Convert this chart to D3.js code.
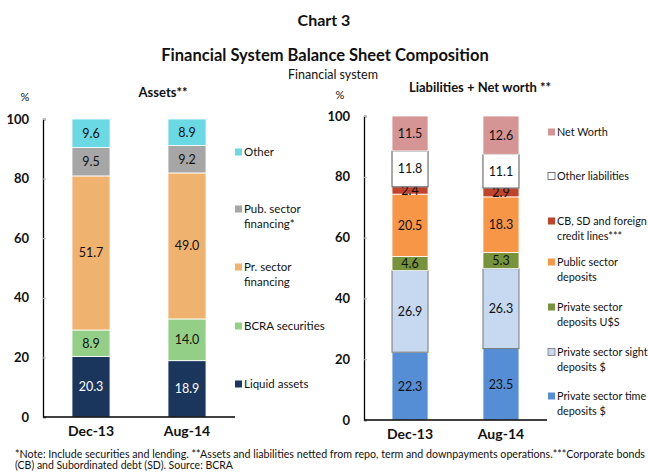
<!DOCTYPE html>
<html>
<head>
<meta charset="utf-8">
<script src="https://cdn.jsdelivr.net/npm/d3@7"></script>
<style>
  body { margin: 0; background: #fff; }
  text { font-family: Lato, "Open Sans", sans-serif; fill: #111; }
</style>
</head>
<body>
<svg width="648" height="472"></svg>
<script>
var periods = ["Dec-13", "Aug-14"];

// assets, bottom to top
var assetSeries = ["Liquid assets", "BCRA securities", "Pr. sector financing", "Pub. sector financing*", "Other"];
var liquidAssets = [20.3, 18.9];
var bcraSecurities = [8.9, 14.0];
var prSectorFin = [51.7, 49.0];
var pubSectorFin = [9.5, 9.2];
var otherAssets = [9.6, 8.9];

// liabilities + net worth, bottom to top
var liabSeries = ["Private sector time deposits $", "Private sector sight deposits $", "Private sector deposits U$S",
                  "Public sector deposits", "CB, SD and foreign credit lines***", "Other liabilities", "Net Worth"];
var timeDeposits = [22.3, 23.5];
var sightDeposits = [26.9, 26.3];
var usdDeposits = [4.6, 5.3];
var publicDeposits = [20.5, 18.3];
var creditLines = [2.4, 2.9];
var otherLiab = [11.8, 11.1];
var netWorth = [11.5, 12.6];

var yTicks = [0, 20, 40, 60, 80, 100];

var svg = d3.select("svg");

// titles
svg.append("text").attr("x", 324).attr("y", 26).attr("text-anchor", "middle")
    .style("font-size", "16px").style("font-weight", "bold").text("Chart 3");
svg.append("text").attr("x", 325).attr("y", 61).attr("text-anchor", "middle")
    .style("font-size", "16.5px").style("font-weight", "bold").text("Financial System Balance Sheet Composition");
svg.append("text").attr("x", 333).attr("y", 79).attr("text-anchor", "middle")
    .style("font-size", "12.5px").text("Financial system");

function drawPanel(cfg) {
    var g = svg.append("g");
    var y = d3.scaleLinear().domain([0, 100]).range([cfg.y0, cfg.y1]);
    var x = d3.scaleBand().domain(periods).range([cfg.xl, cfg.xr])
        .paddingInner(0.604).paddingOuter(cfg.outer);

    var rows = periods.map(function (p, i) {
        var r = {period: p};
        cfg.series.forEach(function (s, j) { r[s] = cfg.values[j][i]; });
        return r;
    });
    var stacked = d3.stack().keys(cfg.series)(rows);

    stacked.forEach(function (layer, j) {
        var st = cfg.styles[j];
        g.selectAll(null).data(layer).enter().append("rect")
            .attr("x", function (d) { return x(d.data.period); })
            .attr("y", function (d) { return y(d[1]); })
            .attr("width", x.bandwidth())
            .attr("height", function (d) { return y(d[0]) - y(d[1]); })
            .attr("fill", st.fill)
            .attr("stroke", st.stroke || "#fff")
            .attr("stroke-width", st.stroke ? 1 : 0.8);
        g.selectAll(null).data(layer).enter().append("text")
            .attr("x", function (d) { return x(d.data.period) + x.bandwidth() / 2; })
            .attr("y", function (d) { return y((d[0] + d[1]) / 2) + 4.5; })
            .attr("text-anchor", "middle")
            .style("font-size", "12.5px")
            .style("fill", st.label || "#111")
            .text(function (d) { return (d[1] - d[0]).toFixed(1); });
    });

    // axes
    var yAxis = g.append("g").attr("transform", "translate(" + cfg.xl + ",0)")
        .call(d3.axisLeft(y).tickValues(yTicks).tickSize(-3).tickPadding(14));
    yAxis.select(".domain").attr("stroke", "#000").attr("stroke-width", 1.3);
    yAxis.selectAll(".tick line").attr("stroke", "#bbb");
    yAxis.selectAll(".tick text").style("font-size", "13px").style("font-weight", "bold")
        .style("font-family", "Lato, sans-serif");

    g.append("line").attr("x1", cfg.xl).attr("x2", cfg.xr)
        .attr("y1", y(0)).attr("y2", y(0)).attr("stroke", "#000").attr("stroke-width", 1.3);
    g.selectAll(null).data(periods).enter().append("text")
        .attr("x", function (p) { return x(p) + x.bandwidth() / 2; })
        .attr("y", y(0) + 19)
        .attr("text-anchor", "middle")
        .style("font-size", "14px").style("font-weight", "bold")
        .text(function (p) { return p; });

    g.append("text").attr("x", cfg.pctX).attr("y", cfg.pctY).attr("text-anchor", "middle")
        .style("font-size", "11px").text("%");
    g.append("text").attr("x", cfg.titleX).attr("y", cfg.titleY).attr("text-anchor", "middle")
        .style("font-size", "13px").style("font-weight", "bold").text(cfg.title);

    // legend
    cfg.series.forEach(function (s, j) {
        var st = cfg.styles[j];
        var lines = cfg.legendLines[j];
        var ly = cfg.legendY[j];
        g.append("rect").attr("x", cfg.legX).attr("y", ly - 7.5).attr("width", 7).attr("height", 7)
            .attr("fill", st.fill).attr("stroke", st.stroke || "none").attr("stroke-width", 0.8);
        lines.forEach(function (t, k) {
            g.append("text").attr("x", cfg.legX + 9).attr("y", ly + k * 15)
                .style("font-size", cfg.legFont).text(t);
        });
    });
}

drawPanel({
    series: assetSeries,
    values: [liquidAssets, bcraSecurities, prSectorFin, pubSectorFin, otherAssets],
    styles: [{fill: "#1b365d", label: "#fff"}, {fill: "#93cf86"}, {fill: "#f0b26f"}, {fill: "#a6a6a6"}, {fill: "#6ad9e4"}],
    legendLines: [["Liquid assets"], ["BCRA securities"], ["Pr. sector", "financing"], ["Pub. sector", "financing*"], ["Other"]],
    legendY: [388, 330, 271, 213, 156],
    y0: 417, y1: 119, xl: 43, xr: 235, outer: 0.302,
    legX: 235, legFont: "11.5px", pctX: 25, pctY: 101, titleX: 163, titleY: 97, title: "Assets**"
});

drawPanel({
    series: liabSeries,
    values: [timeDeposits, sightDeposits, usdDeposits, publicDeposits, creditLines, otherLiab, netWorth],
    styles: [{fill: "#558ed5"}, {fill: "#c6d9f1", stroke: "#777"}, {fill: "#77933c"}, {fill: "#f79646"},
             {fill: "#c0432b"}, {fill: "#fff", stroke: "#555"}, {fill: "#d59594"}],
    legendLines: [["Private sector time", "deposits $"], ["Private sector sight", "deposits $"], ["Private sector", "deposits U$S"],
                  ["Public sector", "deposits"], ["CB, SD and foreign", "credit lines***"], ["Other liabilities"], ["Net Worth"]],
    legendY: [400, 356, 311, 266, 225, 180, 136],
    y0: 420, y1: 116, xl: 364, xr: 547, outer: 0.308,
    legX: 548, legFont: "10.8px", pctX: 340, pctY: 99, titleX: 480, titleY: 92, title: "Liabilities + Net worth **"
});

// footnote
svg.append("text").attr("x", 15).attr("y", 458).style("font-size", "10.5px")
    .attr("textLength", 630).attr("lengthAdjust", "spacingAndGlyphs")
    .text("*Note: Include securities and lending. **Assets and liabilities netted from repo, term and downpayments operations.***Corporate bonds");
svg.append("text").attr("x", 15).attr("y", 469).style("font-size", "10.5px")
    .text("(CB) and Subordinated debt (SD). Source: BCRA");
</script>
</body>
</html>
